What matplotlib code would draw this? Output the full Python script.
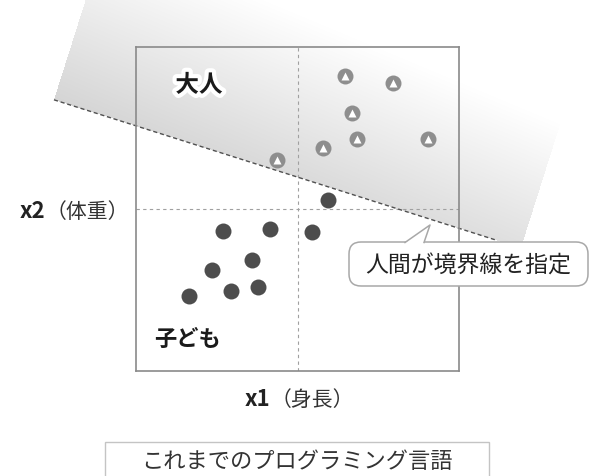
import numpy as np
import matplotlib
matplotlib.use("Agg")
import matplotlib.pyplot as plt
import matplotlib.patheffects as pe
from matplotlib.patches import FancyBboxPatch, Polygon, Rectangle

plt.rcParams['font.family'] = ['Noto Sans CJK JP', 'DejaVu Sans']

# data (x1 = height, x2 = weight), both on a 0-10 scale
adult_x = [6.46, 7.97, 6.70, 6.85, 5.78, 9.03, 4.36]
adult_y = [9.11, 8.88, 7.96, 7.16, 6.88, 7.16, 6.51]
child_x = [5.93, 2.70, 4.16, 5.44, 3.60, 2.36, 1.65, 2.93, 3.78]
child_y = [5.29, 4.31, 4.38, 4.28, 3.44, 3.13, 2.32, 2.46, 2.60]
boundary_x = [-2.54, 11.18]
boundary_y = [8.37, 4.03]
split = 5

W, H = 600, 477
fig = plt.figure(figsize=(6, 4.77), dpi=100)

# background layer (pixel coords) for the shaded band
bg = fig.add_axes([0, 0, 1, 1], zorder=0)
bg.set_xlim(0, W)
bg.set_ylim(0, H)
bg.axis('off')

ax = fig.add_axes([136 / W, 105 / H, 323 / W, 324 / H], zorder=1)
ax.set_xlim(0, 10)
ax.set_ylim(0, 10)
ax.patch.set_alpha(0)

# gradient band above the human-drawn boundary
p = ax.transData.transform(np.column_stack([boundary_x, boundary_y]))
d = p[1] - p[0]
L = np.hypot(*d)
u = d / L
n = np.array([-u[1], u[0]])
gx, gy = np.meshgrid(np.arange(W) + 0.5, np.arange(H) + 0.5)
rx, ry = gx - p[0, 0], gy - p[0, 1]
t = rx * u[0] + ry * u[1]
s = rx * n[0] + ry * n[1]
inside = (t >= 0) & (t <= L + 25) & (s >= 0)
v = np.clip(213 + 40 * s / 165 + 10 * t / L, 0, 255) / 255
img = np.ones((H, W, 4))
img[..., 0] = v
img[..., 1] = v
img[..., 2] = v
img[..., 3] = inside.astype(float)
bg.imshow(img, extent=[0, W, 0, H], origin='lower', aspect='auto', interpolation='bilinear')

# plot box
ax.axvline(split, color='#a0a0a0', lw=0.8, ls=(0, (3, 3)), zorder=1)
ax.axhline(split, color='#a0a0a0', lw=0.8, ls=(0, (3, 3)), zorder=1)
ax.plot(boundary_x, boundary_y, color='#505050', lw=1.0, ls=(0, (3, 2)), clip_on=False, zorder=2)
ax.plot(child_x, child_y, 'o', ms=11.5, color='#4d4d4d', mec='none', zorder=4)
ax.plot(adult_x, adult_y, 'o', ms=11.5, color='#8e8e8e', mec='none', zorder=4)
ax.plot(adult_x, adult_y, '^', ms=5.5, color='white', mec='none', zorder=5)
for sp in ax.spines.values():
    sp.set_color('#8a8a8a')
    sp.set_linewidth(1.2)
ax.set_xticks([])
ax.set_yticks([])

ax.text(0.195, 0.883, '大人', transform=ax.transAxes, ha='center', va='center',
        fontsize=17, fontweight='bold', color='#1a1a1a', zorder=6,
        path_effects=[pe.withStroke(linewidth=6, foreground='white')])
ax.text(0.158, 0.099, '子ども', transform=ax.transAxes, ha='center', va='center',
        fontsize=16, fontweight='bold', color='#1a1a1a', zorder=6)

# overlay (pixel coords, y down) for labels and callouts
top = fig.add_axes([0, 0, 1, 1], zorder=2)
top.set_xlim(0, W)
top.set_ylim(H, 0)
top.axis('off')

top.text(45, 212, 'x2', ha='right', va='center', fontsize=16, fontweight='bold', color='#222222')
top.text(46, 212, '（体重）', ha='left', va='center', fontsize=15, color='#333333')
top.text(270, 400, 'x1', ha='right', va='center', fontsize=16, fontweight='bold', color='#222222')
top.text(271, 400, '（身長）', ha='left', va='center', fontsize=15, color='#333333')

# speech bubble
edge = '#a8a8a8'
bubble = FancyBboxPatch((349, 243), 239, 44, boxstyle='round,pad=0,rounding_size=12',
                        fc='white', ec=edge, lw=1.1)
top.add_patch(bubble)
tail = Polygon([(405, 244), (430, 226), (424, 244)], closed=True, fc='white', ec='none')
top.add_patch(tail)
top.plot([405, 430, 424], [243.5, 226, 243.5], color=edge, lw=1.1)
top.text(468, 266, '人間が境界線を指定', ha='center', va='center', fontsize=16.5, color='#222222')

# bottom caption box
top.add_patch(Rectangle((105, 443), 384, 45, fc='white', ec='#c4c4c4', lw=1.0))
top.text(297, 462, 'これまでのプログラミング言語', ha='center', va='center',
         fontsize=16, color='#333333')

fig.savefig('out.png', dpi=100)
